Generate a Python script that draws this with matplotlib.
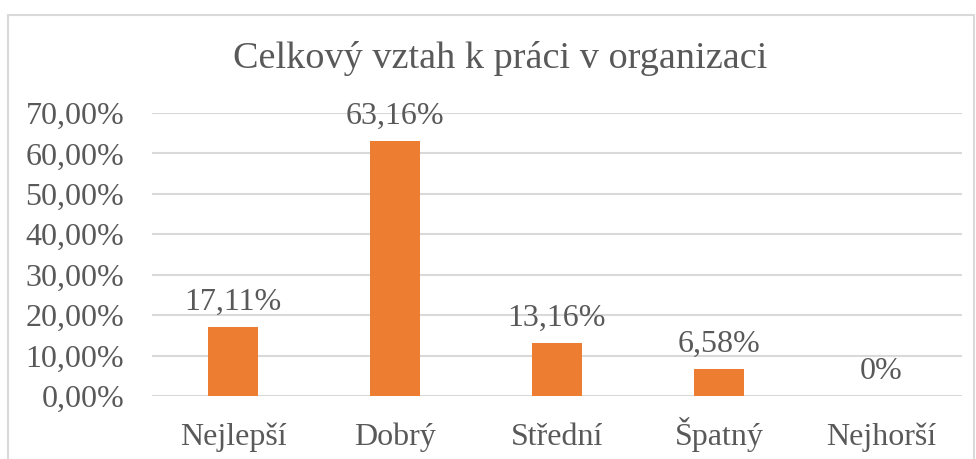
import matplotlib
matplotlib.use("Agg")
from matplotlib import pyplot as plt
from matplotlib.patches import Rectangle

# data
categories = ["Nejlepší", "Dobrý", "Střední", "Špatný", "Nejhorší"]
values = [17.11, 63.16, 13.16, 6.58, 0.0]
value_labels = ["17,11%", "63,16%", "13,16%", "6,58%", "0%"]
y_ticks = [0, 10, 20, 30, 40, 50, 60, 70]

plt.rcParams["font.family"] = ["Liberation Serif", "DejaVu Serif"]
text_color = "#595959"
grid_color = "#D9D9D9"
bar_color = "#ED7D31"

fig = plt.figure(figsize=(9.76, 4.59), dpi=100)
ax = fig.add_axes([152 / 976, 1 - 396 / 459, 810 / 976, 283 / 459])

x = range(len(categories))
ax.bar(x, values, width=0.31, color=bar_color, zorder=3)
for i, (v, lab) in enumerate(zip(values, value_labels)):
    ax.text(i, v + 2.5, lab, ha="center", va="bottom",
            fontsize=23, color=text_color)

ax.set_xlim(-0.5, len(categories) - 0.5)
ax.set_ylim(0, 70)
ax.set_yticks(y_ticks)
ax.set_yticklabels([f"{t},00%" for t in y_ticks])
ax.set_xticks(list(x))
ax.set_xticklabels(categories)
ax.tick_params(axis="both", length=0, labelsize=23, colors=text_color)
ax.tick_params(axis="y", pad=20)
ax.tick_params(axis="x", pad=35)
# keep the category names on one baseline (caron on Š)
for lbl in ax.get_xticklabels():
    lbl.set_verticalalignment("baseline")
ax.grid(axis="y", color=grid_color, linewidth=1.5, zorder=0)
for s in ax.spines.values():
    s.set_visible(False)

fig.text(500 / 976, 1 - 58 / 459, "Celkový vztah k práci v organizaci",
         ha="center", va="center", fontsize=27.5, color=text_color)

# chart border
fig.patches.append(Rectangle((8 / 976, -0.01), 966 / 976, 1 - 15 / 459 + 0.01,
                             transform=fig.transFigure, fill=False,
                             edgecolor=grid_color, linewidth=1.5))

fig.savefig("out.png", dpi=100)
